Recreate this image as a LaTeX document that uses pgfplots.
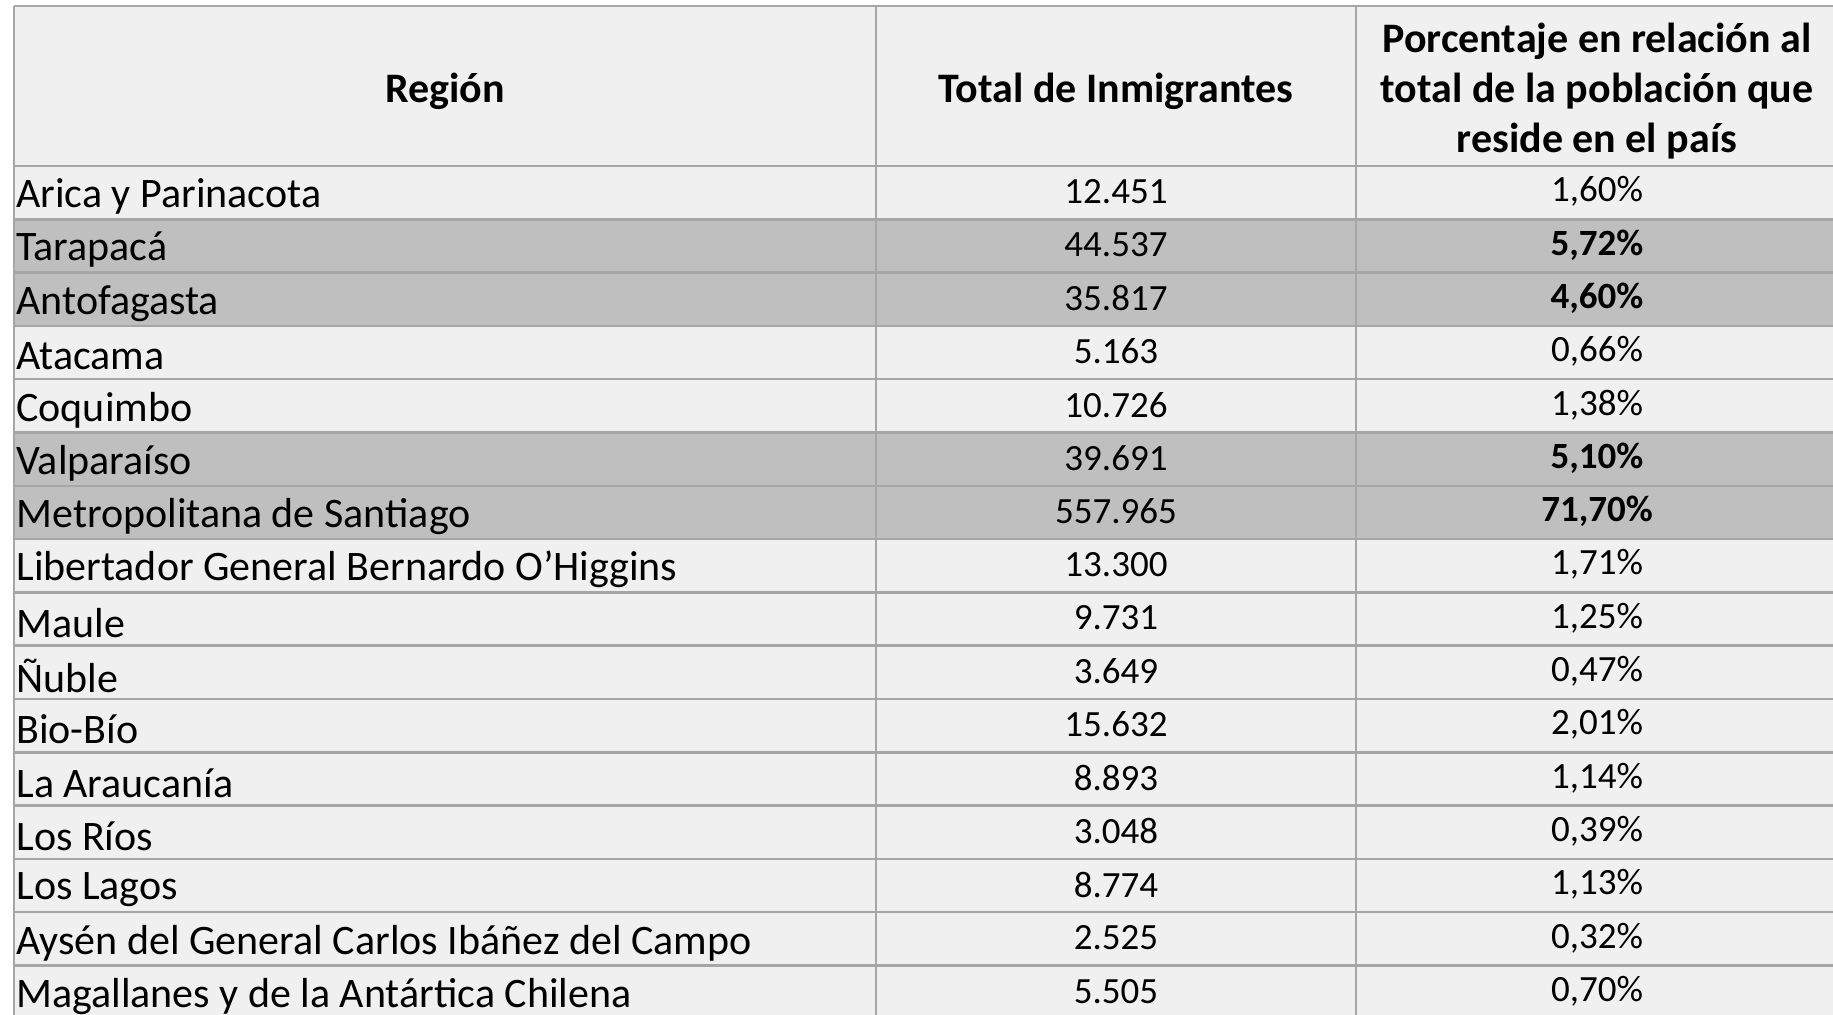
\documentclass[border=0pt]{standalone}
\usepackage{pgfplots}
\usepackage{pgfplotstable}
\pgfplotsset{compat=1.18}
\usepackage{fontspec}
\setmainfont{Carlito}
\definecolor{cellbg}{HTML}{F0F0F0}
\definecolor{hlbg}{HTML}{BFBFBF}
\definecolor{gridc}{HTML}{A6A6A6}

\pgfplotstableread[col sep=semicolon,row sep=\\]{
i;name;total;pct;hl\\
1;Arica y Parinacota;12451;1.60;0\\
2;Tarapacá;44537;5.72;1\\
3;Antofagasta;35817;4.60;1\\
4;Atacama;5163;0.66;0\\
5;Coquimbo;10726;1.38;0\\
6;Valparaíso;39691;5.10;1\\
7;Metropolitana de Santiago;557965;71.70;1\\
8;Libertador General Bernardo O’Higgins;13300;1.71;0\\
9;Maule;9731;1.25;0\\
10;Ñuble;3649;0.47;0\\
11;Bio-Bío;15632;2.01;0\\
12;La Araucanía;8893;1.14;0\\
13;Los Ríos;3048;0.39;0\\
14;Los Lagos;8774;1.13;0\\
15;Aysén del General Carlos Ibáñez del Campo;2525;0.32;0\\
16;Magallanes y de la Antártica Chilena;5505;0.70;0\\
}\regiondata

\newcommand{\rowfont}{\fontsize{21}{25}\selectfont}
\newcommand{\numfont}{\fontsize{18.5}{22}\selectfont}

\begin{document}
\begin{tikzpicture}
\begin{axis}[
  scale only axis, width=916.5pt, height=507.5pt,
  xmin=0, xmax=1833, ymin=0, ymax=1015, y dir=reverse,
  hide axis, clip=true,
  /pgf/number format/assume math mode=true,
]
% backgrounds
\fill[cellbg] (axis cs:14,6) rectangle (axis cs:1850,1030);
\pgfplotsinvokeforeach{2,3,6,7}{
  \fill[hlbg] (axis cs:14,{166+(#1-1)*53.3}) rectangle (axis cs:1850,{166+#1*53.3});
}
% grid lines
\draw[gridc, line width=1.25pt] (axis cs:14,6) -- (axis cs:1850,6);
\pgfplotsinvokeforeach{0,...,15}{
  \draw[gridc, line width=1.25pt] (axis cs:14,{166+#1*53.3}) -- (axis cs:1850,{166+#1*53.3});
}
\pgfplotsinvokeforeach{14,876,1356}{
  \draw[gridc, line width=1pt] (axis cs:#1,6) -- (axis cs:#1,1030);
}
% headers
\node[font=\bfseries\rowfont] at (axis cs:445,91) {Región};
\node[font=\bfseries\rowfont] at (axis cs:1116,91) {Total de Inmigrantes};
\node[font=\bfseries\rowfont, align=center] at (axis cs:1597,91)
  {Porcentaje en relación al\\ total de la población que\\ reside en el país};

% region names
\addplot[draw=none, mark=none, point meta=explicit symbolic,
  nodes near coords,
  nodes near coords style={anchor=west, font=\rowfont, inner sep=0pt, text=black}]
  table[x expr=16, y expr={166+(\thisrow{i}-0.5)*53.3+4}, meta=name] {\regiondata};

% totals
\addplot[draw=none, mark=none, point meta=explicit,
  nodes near coords={\pgfmathprintnumber[fixed,precision=0,1000 sep={.}]{\pgfplotspointmeta}},
  nodes near coords style={anchor=center, font=\numfont, inner sep=0pt, text=black}]
  table[x expr=1116, y expr={166+(\thisrow{i}-0.5)*53.3-1}, meta=total] {\regiondata};

% percentages (normal)
\addplot[draw=none, mark=none, point meta=explicit,
  restrict expr to domain={\thisrow{hl}}{-0.5:0.5},
  nodes near coords={\pgfmathprintnumber[fixed,fixed zerofill,precision=2,use comma]{\pgfplotspointmeta}\%},
  nodes near coords style={anchor=center, font=\numfont, inner sep=0pt, text=black}]
  table[x expr=1597, y expr={166+(\thisrow{i}-0.5)*53.3-1}, meta=pct] {\regiondata};

% percentages (bold, highlighted rows)
\addplot[draw=none, mark=none, point meta=explicit,
  restrict expr to domain={\thisrow{hl}}{0.5:1.5},
  nodes near coords={\pgfmathprintnumber[fixed,fixed zerofill,precision=2,use comma]{\pgfplotspointmeta}\%},
  nodes near coords style={anchor=center, font=\bfseries\numfont, inner sep=0pt, text=black}]
  table[x expr=1597, y expr={166+(\thisrow{i}-0.5)*53.3-1}, meta=pct] {\regiondata};
\end{axis}
\pgfresetboundingbox
\path (current axis.south west) rectangle (current axis.north east);
\end{tikzpicture}
\end{document}
